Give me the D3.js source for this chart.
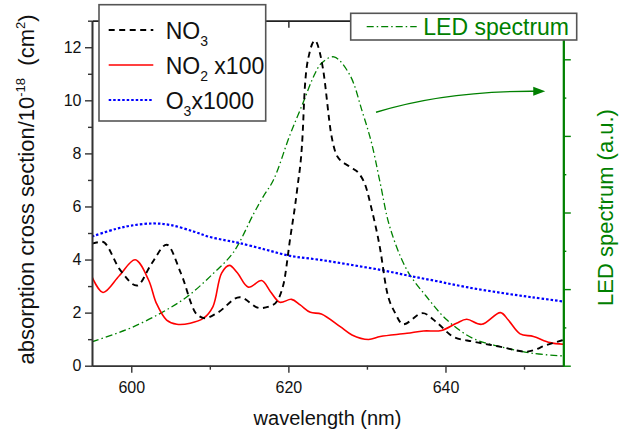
<!DOCTYPE html>
<html><head><meta charset="utf-8">
<script src="https://cdn.jsdelivr.net/npm/d3@7"></script>
<style>
body{margin:0;background:#fff}
svg{display:block;font-family:"Liberation Sans",Arial,Helvetica,sans-serif}
</style>
</head><body>
<svg id="chart" width="638" height="432"></svg>
<script>
// ---------- data ----------
const no3Wavelength = [595,596.3,598.6,600.7,602.6,604.5,606.3,608.3,609.4,611,613.8,616.4,618.1,619.4,620.2,621.1,621.8,622.1,622.7,623.4,624.0,624.4,625.5,626.2,627.8,629.1,629.8,630.6,631.7,632.5,633.6,634.6,637.1,639.0,641.0,643.5,646.9,650.3,652.9,655];
const no3Values     = [4.6,4.67,3.6,3.02,3.85,4.56,3.5,1.95,1.79,2.0,2.58,2.17,2.3,3.1,4.74,6.6,8.64,10.5,11.8,12.25,11.8,11.2,8.64,7.9,7.5,7.2,6.8,5.9,4.37,2.86,1.98,1.56,1.98,1.6,1.09,0.91,0.72,0.53,0.78,0.97];

const no2Wavelength = [595,596.4,598.5,600.5,602.2,603.2,604.5,605.8,607.5,609.2,610.4,611.5,612.5,613.5,614.9,616.6,617.7,618.9,620.4,621.5,622.8,624.2,626.6,628.1,630.2,631.7,635.1,637.2,639.5,641.4,642.7,644.6,647.0,648.0,649.5,651.2,653.3,655];
const no2Values     = [3.35,2.76,3.4,3.99,3.23,2.35,1.72,1.56,1.6,1.79,2.23,3.49,3.78,3.5,2.96,3.21,2.8,2.39,2.5,2.29,2.01,1.95,1.47,1.16,0.99,1.1,1.22,1.31,1.33,1.6,1.75,1.56,2.0,1.72,1.2,1.1,0.87,0.81];

const o3Wavelength = [595,598,600,602.8,605,608,610,612.1,613.8,617,620.2,624,628,632.1,635.5,639,642.7,647,651,655];
const o3Values     = [4.87,5.15,5.28,5.36,5.3,5.05,4.85,4.72,4.62,4.38,4.14,3.99,3.8,3.59,3.38,3.18,2.96,2.75,2.58,2.42];

const ledWavelength = [595,597.5,600,603.7,607.1,610.4,613,615.6,616.8,618.1,620.2,621.9,623.2,624.2,625.8,627.8,629.4,630.6,631.7,632.9,635.1,637.6,640.2,643.5,647,651.2,655];
const ledValues     = [0.078,0.1,0.124,0.171,0.225,0.30,0.37,0.497,0.552,0.606,0.753,0.86,0.943,0.987,1.008,0.95,0.83,0.726,0.595,0.454,0.312,0.225,0.149,0.089,0.062,0.04,0.032];

const xTickMajor = [600,620,640];
const xTickMinor = [610,630,650];
const yTickMajor = [0,2,4,6,8,10,12];
const yTickMinor = [1,3,5,7,9,11,13];
const ledTickMajor = [0,0.25,0.5,0.75,1];
const ledTickMinor = [0.125,0.375,0.625,0.875,1.125];

// arrow annotation (data units: wavelength, left-axis value)
const arrowWavelength = [631.16,636.76,643.12,651.27];
const arrowValue      = [9.55,10.06,10.35,10.34];
const arrowTip        = [652.7,10.34];

// ---------- layout ----------
const svg = d3.select("#chart");
const L = 92, R = 563.3, T = 20.7, B = 365.7;
const green = "#008000";

const x = d3.scaleLinear().domain([595,655]).range([L,R]);
const y = d3.scaleLinear().domain([0,13]).range([B,T]);
const yLed = d3.scaleLinear().domain([0,1.126]).range([B,T]);

svg.append("defs").append("clipPath").attr("id","plot")
  .append("rect").attr("x",L).attr("y",T).attr("width",R-L).attr("height",B-T);

const line = (xs, ys, ys_scale, curve) => d3.line()
  .x((d,i)=>x(xs[i])).y((d,i)=>ys_scale(ys[i]))
  .curve(curve)(xs);

const g = svg.append("g").attr("clip-path","url(#plot)");
g.append("path").attr("d", line(ledWavelength, ledValues, yLed, d3.curveCatmullRom.alpha(0.5)))
  .attr("fill","none").attr("stroke",green).attr("stroke-width",1.3)
  .attr("stroke-dasharray","7,3,1.5,3");
g.append("path").attr("d", line(o3Wavelength, o3Values, y, d3.curveCatmullRom.alpha(0.5)))
  .attr("fill","none").attr("stroke","#0000ff").attr("stroke-width",2.2)
  .attr("stroke-dasharray","2.5,2");
g.append("path").attr("d", line(no2Wavelength, no2Values, y, d3.curveCatmullRom.alpha(0.5)))
  .attr("fill","none").attr("stroke","#ff0000").attr("stroke-width",1.6);
g.append("path").attr("d", line(no3Wavelength, no3Values, y, d3.curveMonotoneX))
  .attr("fill","none").attr("stroke","#000").attr("stroke-width",1.9)
  .attr("stroke-dasharray","6,4.5");

// arrow
const ap = d3.path();
ap.moveTo(x(arrowWavelength[0]), y(arrowValue[0]));
ap.bezierCurveTo(x(arrowWavelength[1]), y(arrowValue[1]), x(arrowWavelength[2]), y(arrowValue[2]), x(arrowWavelength[3]), y(arrowValue[3]));
svg.append("path").attr("d", ap.toString()).attr("fill","none").attr("stroke",green).attr("stroke-width",1.4);
const tx = x(arrowTip[0]), ty = y(arrowTip[1]);
svg.append("path").attr("d",`M${tx},${ty}L${tx-12},${ty-4.5}L${tx-12},${ty+4.5}Z`).attr("fill",green);

// ---------- axes ----------
const axisColor = "#333";
function styleAxis(sel, color){
  sel.selectAll(".domain").attr("stroke",color).attr("stroke-width",1.6);
  sel.selectAll(".tick line").attr("stroke",color).attr("stroke-width",1.4);
  sel.selectAll(".tick text").attr("fill","#111").style("font-size","16px")
     .style("font-family",'"Liberation Sans",Arial,sans-serif');
}
// left
const yl1 = svg.append("g").attr("transform",`translate(${L},0)`)
  .call(d3.axisLeft(y).tickValues(yTickMajor).tickSize(7).tickSizeOuter(0).tickPadding(3.5).tickFormat(d3.format("d")));
styleAxis(yl1, axisColor);
const yl2 = svg.append("g").attr("transform",`translate(${L},0)`)
  .call(d3.axisLeft(y).tickValues(yTickMinor).tickSize(4).tickSizeOuter(0).tickFormat(""));
styleAxis(yl2, axisColor);
// bottom
const xb1 = svg.append("g").attr("transform",`translate(0,${B})`)
  .call(d3.axisBottom(x).tickValues(xTickMajor).tickSize(7).tickSizeOuter(0).tickPadding(9).tickFormat(d3.format("d")));
styleAxis(xb1, axisColor);
const xb2 = svg.append("g").attr("transform",`translate(0,${B})`)
  .call(d3.axisBottom(x).tickValues(xTickMinor).tickSize(4).tickSizeOuter(0).tickFormat(""));
styleAxis(xb2, axisColor);
// top (ticks inward)
const xt1 = svg.append("g").attr("transform",`translate(0,${T})`)
  .call(d3.axisBottom(x).tickValues(xTickMajor).tickSize(7).tickSizeOuter(0).tickFormat(""));
styleAxis(xt1, "#222");
const xt2 = svg.append("g").attr("transform",`translate(0,${T})`)
  .call(d3.axisBottom(x).tickValues(xTickMinor).tickSize(4).tickSizeOuter(0).tickFormat(""));
styleAxis(xt2, "#222");
// right (LED)
const yr1 = svg.append("g").attr("transform",`translate(${R},0)`)
  .call(d3.axisRight(yLed).tickValues(ledTickMajor).tickSize(7.5).tickSizeOuter(0).tickFormat(""));
styleAxis(yr1, green);
const yr2 = svg.append("g").attr("transform",`translate(${R},0)`)
  .call(d3.axisRight(yLed).tickValues(ledTickMinor).tickSize(3).tickSizeOuter(0).tickFormat(""));
styleAxis(yr2, green);
yr1.select(".domain").attr("stroke-width",2.2);

// ---------- titles ----------
svg.append("text").attr("x",327.5).attr("y",425).attr("text-anchor","middle")
  .style("font-size","20px").attr("fill","#111").text("wavelength (nm)");

const yt = svg.append("text").attr("transform","translate(33.5,189.5) rotate(-90)")
  .attr("text-anchor","middle").style("font-size","22px").attr("fill","#111");
yt.append("tspan").text("absorption cross section/10");
yt.append("tspan").attr("dy",-9).style("font-size","13px").text("-18");
yt.append("tspan").attr("dy",9).text("\u00a0 (cm");
yt.append("tspan").attr("dy",-9).style("font-size","13px").text("2");
yt.append("tspan").attr("dy",9).text(")");

svg.append("text").attr("transform","translate(613,207.5) rotate(-90)")
  .attr("text-anchor","middle").style("font-size","22px").attr("fill",green)
  .text("LED spectrum (a.u.)");

// ---------- legends ----------
const legendNames = [["NO","3",""],["NO","2"," x100"],["O","3","x1000"]];
const legendColors = ["#000","#ff0000","#0000ff"];
const legendDash = ["6,4.5",null,"2.5,2"];
const legendWidth = [1.9,1.6,2.2];

const lg = svg.append("g");
lg.append("rect").attr("x",99).attr("y",4.7).attr("width",166.7).attr("height",116.3)
  .attr("fill","#fff").attr("stroke","#555").attr("stroke-width",1.6);
legendNames.forEach((n,i)=>{
  const cy = 30 + i*35;
  lg.append("line").attr("x1",108.7).attr("x2",153.3).attr("y1",cy).attr("y2",cy)
    .attr("stroke",legendColors[i]).attr("stroke-width",legendWidth[i])
    .attr("stroke-dasharray",legendDash[i]);
  const t = lg.append("text").attr("x",165.7).attr("y",cy+9).style("font-size","23px").attr("fill","#111");
  t.append("tspan").text(n[0]);
  t.append("tspan").attr("dy",7).style("font-size","14px").text(n[1]);
  t.append("tspan").attr("dy",-7).text(n[2]);
});

const lg2 = svg.append("g");
lg2.append("rect").attr("x",350.7).attr("y",13.3).attr("width",226).attr("height",26.7)
  .attr("fill","#fff").attr("stroke","#555").attr("stroke-width",1.6);
lg2.append("line").attr("x1",366.7).attr("x2",416.7).attr("y1",26.7).attr("y2",26.7)
  .attr("stroke",green).attr("stroke-width",1.3).attr("stroke-dasharray","7,3,1.5,3");
lg2.append("text").attr("x",423.3).attr("y",35).style("font-size","23px").attr("fill",green).text("LED spectrum");
</script>
</body></html>
